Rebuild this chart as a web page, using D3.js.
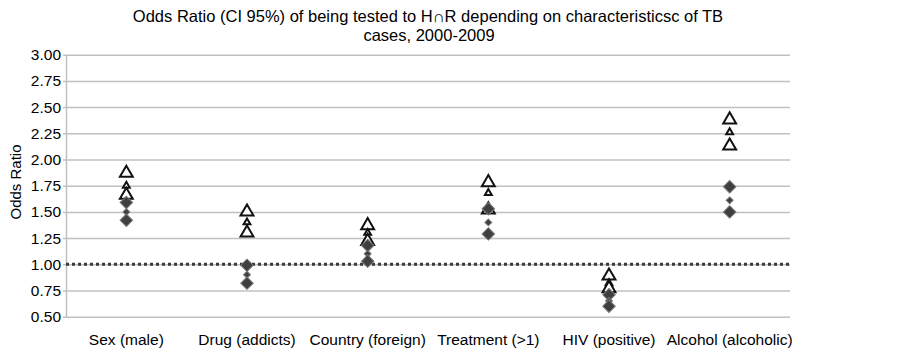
<!DOCTYPE html>
<html lang="en">
<head>
  <meta charset="UTF-8">
  <title>Odds Ratio</title>
  <style>
    body { margin: 0; background: #fff; }
    svg { display: block; font-family: "Liberation Sans", Arial, sans-serif; }
  </style>
</head>
<body>
  <div class="layout"></div>

  <script src="https://d3js.org/d3.v7.min.js"></script>
  <script>
    const SVGWIDTH = 902;
    const SVGHEIGHT = 354;
    const margin = {top:54.7, right:112, bottom:37.3, left:66};
    const innerWidth = SVGWIDTH - margin.left - margin.right;
    const innerHeight = SVGHEIGHT - margin.top - margin.bottom;
    const LABEL_FONT = '15.5px';

    // data
    const categories = ['Sex (male)','Drug (addicts)','Country (foreign)','Treatment (>1)','HIV (positive)','Alcohol (alcoholic)'];
    const yTicks = [0.5,0.75,1,1.25,1.5,1.75,2,2.25,2.5,2.75,3];
    // triangles: upper CI, OR, lower CI
    const triHigh = [1.87,1.50,1.37,1.78,0.89,2.38];
    const triOR   = [1.75,1.40,1.30,1.68,0.82,2.26];
    const triLow  = [1.66,1.30,1.22,1.52,0.77,2.13];
    // diamonds: upper CI, OR, lower CI
    const diaHigh = [1.59,0.99,1.18,1.53,0.71,1.74];
    const diaOR   = [1.50,0.90,1.10,1.40,0.65,1.61];
    const diaLow  = [1.42,0.82,1.03,1.29,0.60,1.50];

    const yScale = d3.scaleLinear()
      .domain([0.5,3])
      .range([innerHeight,0]);

    const xScale = d3.scaleBand()
      .domain(categories)
      .range([0,innerWidth]);

    const svg = d3.select('.layout')
      .append('svg')
      .attr('width',SVGWIDTH)
      .attr('height',SVGHEIGHT);

    // title
    const title = svg.append('text')
      .attr('y',22)
      .attr('text-anchor','middle')
      .attr('font-size','16.5px')
      .attr('fill','#000');
    title.append('tspan').attr('x',428).text('Odds Ratio (CI 95%) of being tested to H\u2229R depending on characteristicsc of TB');
    title.append('tspan').attr('x',429).attr('dy',18.5).text('cases, 2000-2009');

    // axis title
    svg.append('text')
      .attr('transform','translate(21,182) rotate(-90)')
      .attr('text-anchor','middle')
      .attr('font-size','15px')
      .text('Odds Ratio');

    const mainCont = svg.append('g')
      .attr('transform',`translate(${margin.left},${margin.top})`);

    // y axis with gridlines
    const yAxis = d3.axisLeft(yScale)
      .tickValues(yTicks)
      .tickFormat(d3.format('.2f'))
      .tickSize(-innerWidth)
      .tickSizeOuter(0)
      .tickPadding(5);

    const yAxisCont = mainCont.append('g').call(yAxis);
    yAxisCont.select('.domain').attr('stroke','#c0c0c0').attr('stroke-width',1.5);
    yAxisCont.selectAll('.tick line')
      .attr('x1',-3)
      .attr('stroke','#c0c0c0')
      .attr('stroke-width',1.5);
    yAxisCont.selectAll('.tick text')
      .attr('font-size',LABEL_FONT)
      .attr('font-family','"Liberation Sans", Arial, sans-serif')
      .attr('fill','#000');

    // reference line at 1
    mainCont.append('line')
      .attr('x1',0)
      .attr('x2',innerWidth)
      .attr('y1',yScale(1))
      .attr('y2',yScale(1))
      .attr('stroke','#3a3a3a')
      .attr('stroke-width',3)
      .attr('stroke-dasharray','3,3');

    // x axis labels
    const xAxis = d3.axisBottom(xScale).tickSize(0).tickPadding(17);
    const xAxisCont = mainCont.append('g')
      .attr('transform',`translate(0,${innerHeight})`)
      .call(xAxis);
    xAxisCont.select('.domain').remove();
    xAxisCont.selectAll('.tick text')
      .attr('font-size',LABEL_FONT)
      .attr('font-family','"Liberation Sans", Arial, sans-serif')
      .attr('fill','#000');

    const cx = (i) => xScale(categories[i]) + xScale.bandwidth()/2;
    const bigTri = d3.symbol().type(d3.symbolTriangle).size(72);
    const smallTri = d3.symbol().type(d3.symbolTriangle).size(20);
    const bigDia = d3.symbol().type(d3.symbolSquare).size(78);
    const smallDia = d3.symbol().type(d3.symbolSquare).size(24);

    function drawTriangles(values, sym) {
      mainCont.append('g').selectAll('path')
        .data(values)
        .enter()
        .append('path')
        .attr('d',sym)
        .attr('transform',(d,i) => `translate(${cx(i)},${yScale(d)})`)
        .attr('fill','#fff')
        .attr('stroke','#111')
        .attr('stroke-width',2)
        .attr('stroke-linejoin','miter');
    }

    function drawDiamonds(values, sym) {
      mainCont.append('g').selectAll('path')
        .data(values)
        .enter()
        .append('path')
        .attr('d',sym)
        .attr('transform',(d,i) => `translate(${cx(i)},${yScale(d)}) rotate(45)`)
        .attr('fill','#3f3f3f')
        .attr('stroke','#777')
        .attr('stroke-width',1);
    }

    drawTriangles(triHigh,bigTri);
    drawTriangles(triOR,smallTri);
    drawTriangles(triLow,bigTri);
    drawDiamonds(diaHigh,bigDia);
    drawDiamonds(diaOR,smallDia);
    drawDiamonds(diaLow,bigDia);
  </script>
</body>
</html>
